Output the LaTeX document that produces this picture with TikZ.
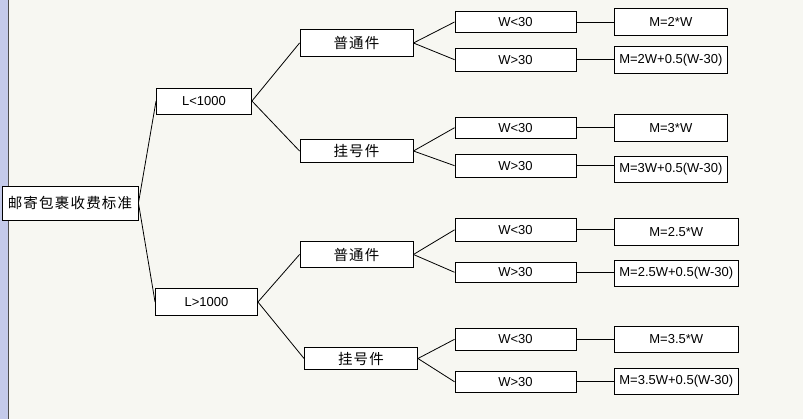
\documentclass[tikz,border=0pt]{standalone}
\usepackage{fontspec}
\setmainfont{Liberation Sans}
\newfontfamily\cjk{Noto Sans CJK SC}
\newcommand\ks{\kern1.2pt}
\definecolor{bg}{RGB}{247,247,242}
\definecolor{strip}{RGB}{196,202,234}
\begin{document}
\begin{tikzpicture}[x=1pt,y=-1pt,
  box/.style={draw=black,fill=white,line width=0.9pt,inner sep=0pt,
    font=\fontsize{13}{15}\selectfont},
  cbox/.style={box,font=\fontsize{14.5}{16}\selectfont\cjk},
  conn/.style={draw=black,line width=0.8pt}]
\useasboundingbox (0,0) rectangle (803,419);
\fill[bg] (0,0) rectangle (803,419);
\fill[strip] (0,0) rectangle (8,419);
\draw[line width=1pt,black!70] (8.5,0) -- (8.5,419);
% root and level 1
\node[cbox,minimum width=136,minimum height=34] (root) at (70,203) {邮\ks 寄\ks 包\ks 裹\ks 收\ks 费\ks 标\ks 准};
\node[box,minimum width=95,minimum height=26] (L1) at (204,101) {L<1000};
\node[box,minimum width=102,minimum height=27] (L2) at (206.5,302) {L>1000};
% level 2
\node[cbox,minimum width=113,minimum height=27] (A1) at (356.5,43) {普\ks 通\ks 件};
\node[cbox,minimum width=113,minimum height=23] (B1) at (356.5,151) {挂\ks 号\ks 件};
\node[cbox,minimum width=113,minimum height=26] (A2) at (356.5,254.5) {普\ks 通\ks 件};
\node[cbox,minimum width=113,minimum height=22] (B2) at (361,358.5) {挂\ks 号\ks 件};
% level 3
\node[box,minimum width=121,minimum height=21] (w1) at (515.5,22) {W<30};
\node[box,minimum width=121,minimum height=23] (w2) at (515.5,59.7) {W>30};
\node[box,minimum width=121,minimum height=21] (w3) at (515.5,127.7) {W<30};
\node[box,minimum width=121,minimum height=23] (w4) at (515.5,165.7) {W>30};
\node[box,minimum width=121,minimum height=23] (w5) at (515.5,229.8) {W<30};
\node[box,minimum width=121,minimum height=20] (w6) at (515.5,272.3) {W>30};
\node[box,minimum width=121,minimum height=22] (w7) at (515.5,339.3) {W<30};
\node[box,minimum width=121,minimum height=21] (w8) at (515.5,381.8) {W>30};
% level 4
\node[box,minimum width=113,minimum height=27] (m1) at (670.8,21.7) {M=2*W};
\node[box,minimum width=113,minimum height=27] (m2) at (670.8,60) {M=2W+0.5(W-30)};
\node[box,minimum width=113,minimum height=27] (m3) at (670.8,127.7) {M=3*W};
\node[box,minimum width=113,minimum height=26] (m4) at (670.8,169.2) {M=3W+0.5(W-30)};
\node[box,minimum width=124,minimum height=27] (m5) at (676.3,231.7) {M=2.5*W};
\node[box,minimum width=124,minimum height=26] (m6) at (676.3,273.3) {M=2.5W+0.5(W-30)};
\node[box,minimum width=124,minimum height=26] (m7) at (676.3,339.3) {M=3.5*W};
\node[box,minimum width=124,minimum height=26] (m8) at (676.3,381.3) {M=3.5W+0.5(W-30)};
% connectors
\draw[conn] (root.east) -- (L1.west);
\draw[conn] (root.east) -- (L2.west);
\draw[conn] (L1.east) -- (A1.west);
\draw[conn] (L1.east) -- (B1.west);
\draw[conn] (L2.east) -- (A2.west);
\draw[conn] (L2.east) -- (B2.west);
\draw[conn] (A1.east) -- (w1.west);
\draw[conn] (A1.east) -- (w2.west);
\draw[conn] (B1.east) -- (w3.west);
\draw[conn] (B1.east) -- (w4.west);
\draw[conn] (A2.east) -- (w5.west);
\draw[conn] (A2.east) -- (w6.west);
\draw[conn] (B2.east) -- (w7.west);
\draw[conn] (B2.east) -- (w8.west);
\draw[conn] (w1.east) -- (w1.east -| m1.west);
\draw[conn] (w2.east) -- (w2.east -| m2.west);
\draw[conn] (w3.east) -- (w3.east -| m3.west);
\draw[conn] (w4.east) -- (w4.east -| m4.west);
\draw[conn] (w5.east) -- (w5.east -| m5.west);
\draw[conn] (w6.east) -- (w6.east -| m6.west);
\draw[conn] (w7.east) -- (w7.east -| m7.west);
\draw[conn] (w8.east) -- (w8.east -| m8.west);
\end{tikzpicture}
\end{document}
